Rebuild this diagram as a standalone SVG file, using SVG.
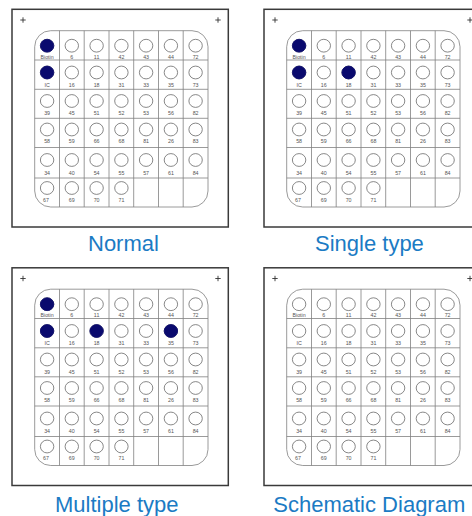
<svg xmlns="http://www.w3.org/2000/svg" xmlns:xlink="http://www.w3.org/1999/xlink" width="472" height="516" viewBox="0 0 472 516">
<style>
.frame{fill:#fff;stroke:#3a3a3a;stroke-width:1.5}
.grid{fill:none;stroke:#808080;stroke-width:0.8}
.well{fill:#fff;stroke:#6a6a6a;stroke-width:0.8}
.dot{fill:#0a0a6e;stroke:#0a0a6e;stroke-width:0.8}
.lbl{font-family:"Liberation Sans",Arial,sans-serif;font-size:5.3px;fill:#555;text-anchor:middle}
.mark{fill:none;stroke:#333;stroke-width:0.9}
.title{font-family:"Liberation Sans",Arial,sans-serif;font-size:22px;fill:#1b7bc4}
</style>
<defs>
<g id="plate">
<rect class="frame" x="12" y="9.3" width="216.3" height="217.7"/>
<path class="mark" d="M20.3 20h5.4M23 17.3v5.4M215.3 20h5.4M218 17.3v5.4"/>
<rect class="grid" x="34.7" y="30.7" width="173.3" height="176.3" rx="16" ry="16"/>
<g class="grid">
<line x1="59.5" y1="30.7" x2="59.5" y2="207"/>
<line x1="84.2" y1="30.7" x2="84.2" y2="207"/>
<line x1="109" y1="30.7" x2="109" y2="207"/>
<line x1="133.7" y1="30.7" x2="133.7" y2="207"/>
<line x1="158.5" y1="30.7" x2="158.5" y2="207"/>
<line x1="183.2" y1="30.7" x2="183.2" y2="207"/>
<line x1="34.7" y1="60" x2="208" y2="60"/>
<line x1="34.7" y1="89.3" x2="208" y2="89.3"/>
<line x1="34.7" y1="118.3" x2="208" y2="118.3"/>
<line x1="34.7" y1="147.5" x2="208" y2="147.5"/>
<line x1="34.7" y1="178" x2="208" y2="178"/>
</g>
<g class="well">
<ellipse cx="47.1" cy="45.7" rx="6.7" ry="6.4"/><ellipse cx="71.8" cy="45.7" rx="6.7" ry="6.4"/><ellipse cx="96.6" cy="45.7" rx="6.7" ry="6.4"/><ellipse cx="121.4" cy="45.7" rx="6.7" ry="6.4"/><ellipse cx="146.1" cy="45.7" rx="6.7" ry="6.4"/><ellipse cx="170.9" cy="45.7" rx="6.7" ry="6.4"/><ellipse cx="195.6" cy="45.7" rx="6.7" ry="6.4"/>
<ellipse cx="47.1" cy="72.5" rx="6.7" ry="6.4"/><ellipse cx="71.8" cy="72.5" rx="6.7" ry="6.4"/><ellipse cx="96.6" cy="72.5" rx="6.7" ry="6.4"/><ellipse cx="121.4" cy="72.5" rx="6.7" ry="6.4"/><ellipse cx="146.1" cy="72.5" rx="6.7" ry="6.4"/><ellipse cx="170.9" cy="72.5" rx="6.7" ry="6.4"/><ellipse cx="195.6" cy="72.5" rx="6.7" ry="6.4"/>
<ellipse cx="47.1" cy="101" rx="6.7" ry="6.4"/><ellipse cx="71.8" cy="101" rx="6.7" ry="6.4"/><ellipse cx="96.6" cy="101" rx="6.7" ry="6.4"/><ellipse cx="121.4" cy="101" rx="6.7" ry="6.4"/><ellipse cx="146.1" cy="101" rx="6.7" ry="6.4"/><ellipse cx="170.9" cy="101" rx="6.7" ry="6.4"/><ellipse cx="195.6" cy="101" rx="6.7" ry="6.4"/>
<ellipse cx="47.1" cy="129.5" rx="6.7" ry="6.4"/><ellipse cx="71.8" cy="129.5" rx="6.7" ry="6.4"/><ellipse cx="96.6" cy="129.5" rx="6.7" ry="6.4"/><ellipse cx="121.4" cy="129.5" rx="6.7" ry="6.4"/><ellipse cx="146.1" cy="129.5" rx="6.7" ry="6.4"/><ellipse cx="170.9" cy="129.5" rx="6.7" ry="6.4"/><ellipse cx="195.6" cy="129.5" rx="6.7" ry="6.4"/>
<ellipse cx="47.1" cy="160" rx="6.7" ry="6.4"/><ellipse cx="71.8" cy="160" rx="6.7" ry="6.4"/><ellipse cx="96.6" cy="160" rx="6.7" ry="6.4"/><ellipse cx="121.4" cy="160" rx="6.7" ry="6.4"/><ellipse cx="146.1" cy="160" rx="6.7" ry="6.4"/><ellipse cx="170.9" cy="160" rx="6.7" ry="6.4"/><ellipse cx="195.6" cy="160" rx="6.7" ry="6.4"/>
<ellipse cx="47.1" cy="188" rx="6.7" ry="6.4"/><ellipse cx="71.8" cy="188" rx="6.7" ry="6.4"/><ellipse cx="96.6" cy="188" rx="6.7" ry="6.4"/><ellipse cx="121.4" cy="188" rx="6.7" ry="6.4"/>
</g>
<g class="lbl">
<text x="47.1" y="58.8">Biotin</text><text x="71.8" y="58.8">6</text><text x="96.6" y="58.8">11</text><text x="121.4" y="58.8">42</text><text x="146.1" y="58.8">43</text><text x="170.9" y="58.8">44</text><text x="195.6" y="58.8">72</text>
<text x="47.1" y="86.8">IC</text><text x="71.8" y="86.8">16</text><text x="96.6" y="86.8">18</text><text x="121.4" y="86.8">31</text><text x="146.1" y="86.8">33</text><text x="170.9" y="86.8">35</text><text x="195.6" y="86.8">73</text>
<text x="47.1" y="115.1">39</text><text x="71.8" y="115.1">45</text><text x="96.6" y="115.1">51</text><text x="121.4" y="115.1">52</text><text x="146.1" y="115.1">53</text><text x="170.9" y="115.1">56</text><text x="195.6" y="115.1">82</text>
<text x="47.1" y="143.3">58</text><text x="71.8" y="143.3">59</text><text x="96.6" y="143.3">66</text><text x="121.4" y="143.3">68</text><text x="146.1" y="143.3">81</text><text x="170.9" y="143.3">26</text><text x="195.6" y="143.3">83</text>
<text x="47.1" y="174.8">34</text><text x="71.8" y="174.8">40</text><text x="96.6" y="174.8">54</text><text x="121.4" y="174.8">55</text><text x="146.1" y="174.8">57</text><text x="170.9" y="174.8">61</text><text x="195.6" y="174.8">84</text>
<text x="46" y="201.5">67</text><text x="71.8" y="201.5">69</text><text x="96.6" y="201.5">70</text><text x="121.4" y="201.5">71</text>
</g>
</g>
</defs>

<rect x="0" y="0" width="472" height="516" fill="#fff"/>

<g id="panel-normal">
<use xlink:href="#plate" href="#plate"/>
<ellipse class="dot" cx="47.1" cy="45.7" rx="6.7" ry="6.4"/>
<ellipse class="dot" cx="47.1" cy="72.5" rx="6.7" ry="6.4"/>
<text class="title" x="88" y="251">Normal</text>
</g>

<g id="panel-single" transform="translate(252,0)">
<use xlink:href="#plate" href="#plate"/>
<ellipse class="dot" cx="47.1" cy="45.7" rx="6.7" ry="6.4"/>
<ellipse class="dot" cx="47.1" cy="72.5" rx="6.7" ry="6.4"/>
<ellipse class="dot" cx="96.6" cy="72.5" rx="6.7" ry="6.4"/>
<text class="title" x="63" y="250.5">Single type</text>
</g>

<g id="panel-multiple" transform="translate(0,258.5)">
<use xlink:href="#plate" href="#plate"/>
<ellipse class="dot" cx="47.1" cy="45.7" rx="6.7" ry="6.4"/>
<ellipse class="dot" cx="47.1" cy="72.5" rx="6.7" ry="6.4"/>
<ellipse class="dot" cx="96.6" cy="72.5" rx="6.7" ry="6.4"/>
<ellipse class="dot" cx="170.9" cy="72.5" rx="6.7" ry="6.4"/>
<text class="title" x="55" y="253.5">Multiple type</text>
</g>

<g id="panel-schematic" transform="translate(252,258.5)">
<use xlink:href="#plate" href="#plate"/>
<text class="title" x="21.3" y="253.5">Schematic Diagram</text>
</g>
</svg>
